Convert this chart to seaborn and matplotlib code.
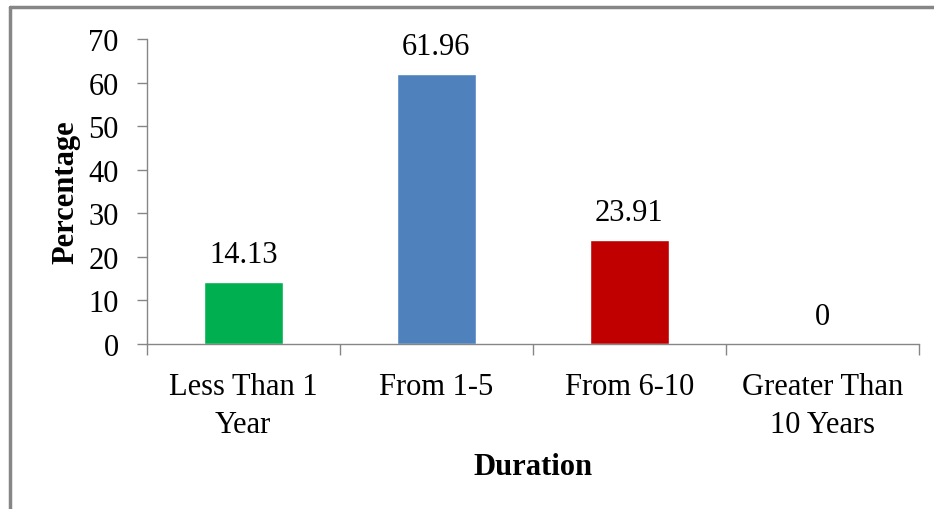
import matplotlib
matplotlib.use("Agg")
import matplotlib.pyplot as plt
import seaborn as sns
import pandas as pd
from matplotlib.lines import Line2D

categories = ["Less Than 1\nYear", "From 1-5", "From 6-10", "Greater Than\n10 Years"]
percent = [14.13, 61.96, 23.91, 0]
value_labels = ["14.13", "61.96", "23.91", "0"]
bar_colors = ["#00B050", "#4F81BD", "#C00000", "#FFFFFF"]

sns.set_style("white")
plt.rcParams["font.family"] = ["Liberation Serif", "DejaVu Serif"]
plt.rcParams["text.color"] = "black"
plt.rcParams["xtick.labelcolor"] = "black"
plt.rcParams["ytick.labelcolor"] = "black"
plt.rcParams["axes.labelcolor"] = "black"

df = pd.DataFrame({"Duration": categories, "Percentage": percent})

fig = plt.figure(figsize=(9.34, 5.1), dpi=100)
ax = fig.add_axes([0.157, 0.3235, 0.827, 0.598])

sns.barplot(data=df, x="Duration", y="Percentage", hue="Duration",
            palette=bar_colors, legend=False, width=0.41, ax=ax,
            saturation=1)

for i, v in enumerate(percent):
    ax.text(i, v + 3, value_labels[i], ha="center", va="bottom", fontsize=22)

gray = "#868686"
ax.set_ylim(0, 70)
ax.set_xlim(-0.5, 3.5)
ax.set_yticks(range(0, 71, 10))
ax.tick_params(axis="y", labelsize=22, length=7, width=1, color=gray,
               direction="out", left=True, pad=13)
ax.set_xticks([i - 0.5 for i in range(5)])
ax.set_xticklabels([])
ax.set_xticks(range(4), minor=True)
ax.set_xticklabels(categories, minor=True, fontsize=22, linespacing=1.4)
ax.tick_params(axis="x", which="major", length=8, width=1, color=gray,
               direction="out", bottom=True)
ax.tick_params(axis="x", which="minor", length=0, pad=20)

for s in ["top", "right"]:
    ax.spines[s].set_visible(False)
for s in ["left", "bottom"]:
    ax.spines[s].set_color(gray)
    ax.spines[s].set_linewidth(1)

ax.set_xlabel("Duration", fontsize=22, fontweight="bold", labelpad=10)
ax.set_ylabel("Percentage", fontsize=22, fontweight="bold", labelpad=6)

fig.add_artist(Line2D([9.5 / 934, 9.5 / 934], [0, 1 - 8 / 510],
                      transform=fig.transFigure, color=gray, linewidth=2.5))
fig.add_artist(Line2D([9.5 / 934, 1], [1 - 8 / 510, 1 - 8 / 510],
                      transform=fig.transFigure, color=gray, linewidth=2.5))

fig.savefig("out.png", dpi=100)
